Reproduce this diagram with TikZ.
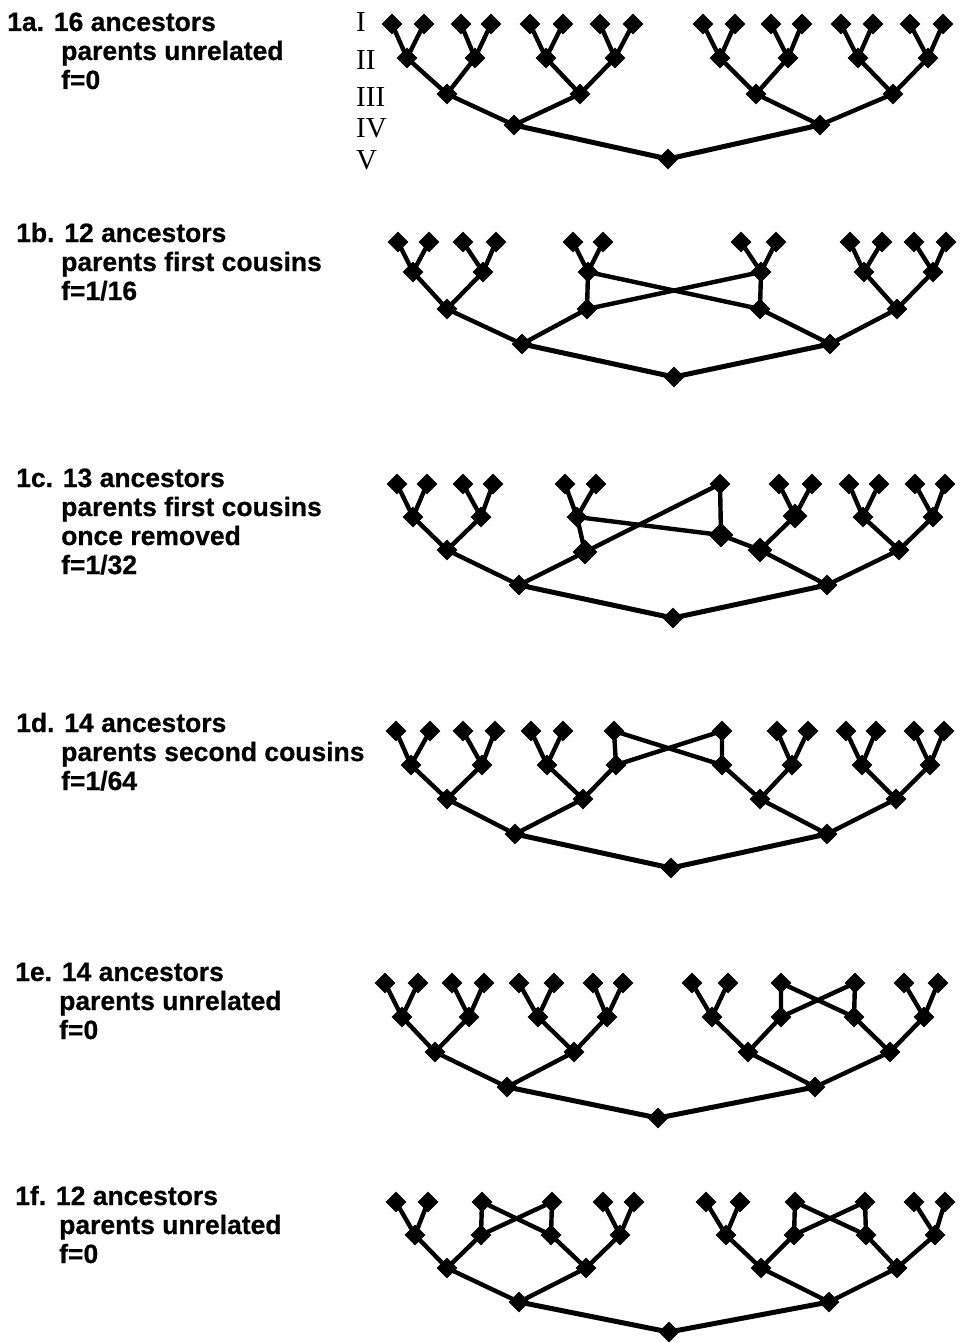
\documentclass[tikz,border=0pt]{standalone}
\usepackage{fontspec}
\setmainfont{Liberation Sans}
\newfontfamily\capfont[FakeBold=0.6]{Liberation Sans}
\newfontfamily\romfont{Liberation Serif}
\usetikzlibrary{shapes.geometric}

\begin{document}
\begin{tikzpicture}[x=1pt,y=-1pt]
    \tikzstyle{anc}=[diamond,fill=black,inner sep=0pt,minimum size=21pt]
    \tikzstyle{big}=[anc,minimum size=25pt]
    \tikzstyle{link}=[line width=4.4pt]
    \tikzstyle{root}=[line width=5pt]
    \tikzstyle{caption}=[anchor=base west,inner sep=0pt,font=\capfont\fontsize{26.5}{29}\selectfont\bfseries]
    \tikzstyle{gen}=[anchor=west,inner sep=0pt,font=\romfont\fontsize{29}{29}\selectfont]

    \useasboundingbox (0,0) rectangle (959,1343);

    % captions
    \node[caption] (capa) at (7,31) {1a. 16 ancestors};
    \node[caption] (capa2) at (61,60) {\begin{tabular}[t]{@{}l@{}}parents unrelated\\f=0\end{tabular}};
    \node[caption] (capb) at (16,242) {1b. 12 ancestors};
    \node[caption] (capb2) at (61,271) {\begin{tabular}[t]{@{}l@{}}parents first cousins\\f=1/16\end{tabular}};
    \node[caption] (capc) at (16,487) {1c. 13 ancestors};
    \node[caption] (capc2) at (61,516) {\begin{tabular}[t]{@{}l@{}}parents first cousins\\once removed\\f=1/32\end{tabular}};
    \node[caption] (capd) at (16,732) {1d. 14 ancestors};
    \node[caption] (capd2) at (61,761) {\begin{tabular}[t]{@{}l@{}}parents second cousins\\f=1/64\end{tabular}};
    \node[caption] (cape) at (15,981) {1e. 14 ancestors};
    \node[caption] (cape2) at (59,1010) {\begin{tabular}[t]{@{}l@{}}parents unrelated\\f=0\end{tabular}};
    \node[caption] (capf) at (15,1205) {1f. 12 ancestors};
    \node[caption] (capf2) at (59,1234) {\begin{tabular}[t]{@{}l@{}}parents unrelated\\f=0\end{tabular}};

    % generations
    \node[gen] (gI) at (356,22) {I};
    \node[gen] (gII) at (356,60) {II};
    \node[gen] (gIII) at (356,97) {III};
    \node[gen] (gIV) at (356,128) {IV};
    \node[gen] (gV) at (356,160) {V};

    % 1a
    \foreach \x [count=\i] in {392,424,461,491,530,563,600,633,703,735,771,802,841,873,910,943}
        \node[anc] (aI\i) at (\x,24) {};
    \foreach \x [count=\i] in {407,475,546,615,720,788,858,928}
        \node[anc] (aII\i) at (\x,58) {};
    \foreach \x [count=\i] in {447,580,756,893}
        \node[anc] (aIII\i) at (\x,94) {};
    \node[anc] (aIV1) at (514,125) {};
    \node[anc] (aIV2) at (820,125) {};
    \node[anc] (aV) at (668,159) {};

    \foreach \c/\p/\q in {1/1/2,2/3/4,3/5/6,4/7/8,5/9/10,6/11/12,7/13/14,8/15/16}
        \draw[link] (aI\p.center) -- (aII\c.center) -- (aI\q.center);
    \foreach \c/\p/\q in {1/1/2,2/3/4,3/5/6,4/7/8}
        \draw[link] (aII\p.center) -- (aIII\c.center) -- (aII\q.center);
    \draw[link] (aIII1.center) -- (aIV1.center) -- (aIII2.center);
    \draw[link] (aIII3.center) -- (aIV2.center) -- (aIII4.center);
    \draw[root] (aIV1.center) -- (aV.center) -- (aIV2.center);

    % 1b
    \foreach \x [count=\i] in {398,429,463,496,573,603,741,776,850,882,914,946}
        \node[anc] (bI\i) at (\x,242) {};
    \foreach \x [count=\i] in {413,483,588,761,864,933}
        \node[anc] (bII\i) at (\x,272) {};
    \foreach \x [count=\i] in {447,587,760,897}
        \node[anc] (bIII\i) at (\x,309) {};
    \node[anc] (bIV1) at (522,344) {};
    \node[anc] (bIV2) at (830,344) {};
    \node[anc] (bV) at (674,377) {};

    \foreach \c/\p/\q in {1/1/2,2/3/4,3/5/6,4/7/8,5/9/10,6/11/12}
        \draw[link] (bI\p.center) -- (bII\c.center) -- (bI\q.center);
    \foreach \c/\p/\q in {1/1/2,2/3/4,3/4/3,4/5/6}
        \draw[link] (bII\p.center) -- (bIII\c.center) -- (bII\q.center);
    \draw[link] (bIII1.center) -- (bIV1.center) -- (bIII2.center);
    \draw[link] (bIII3.center) -- (bIV2.center) -- (bIII4.center);
    \draw[root] (bIV1.center) -- (bV.center) -- (bIV2.center);

    % 1c
    \foreach \x [count=\i] in {397,427,463,493,565,596,720,779,812,849,879,915,945}
        \node[anc] (cI\i) at (\x,484) {};
    \foreach \x/\y/\s [count=\i] in {413/517/anc,481/517/anc,577/517/anc,721/535/big,795/516/big,863/517/anc,933/517/anc}
        \node[\s] (cII\i) at (\x,\y) {};
    \foreach \x/\y/\s [count=\i] in {447/550/anc,585/552/big,760/550/big,899/550/anc}
        \node[\s] (cIII\i) at (\x,\y) {};
    \node[anc] (cIV1) at (519,585) {};
    \node[anc] (cIV2) at (827,585) {};
    \node[anc] (cV) at (673,618) {};

    \foreach \c/\p/\q in {1/1/2,2/3/4,3/5/6,5/8/9,6/10/11,7/12/13}
        \draw[link] (cI\p.center) -- (cII\c.center) -- (cI\q.center);
    \draw[link] (cII3.center) -- (cII4.center) -- (cI7.center);
    \draw[link] (cII3.center) -- (cIII2.center) -- (cI7.center);
    \foreach \c/\p/\q in {1/1/2,3/4/5,4/6/7}
        \draw[link] (cII\p.center) -- (cIII\c.center) -- (cII\q.center);
    \draw[link] (cIII1.center) -- (cIV1.center) -- (cIII2.center);
    \draw[link] (cIII3.center) -- (cIV2.center) -- (cIII4.center);
    \draw[root] (cIV1.center) -- (cV.center) -- (cIV2.center);

    % 1d
    \foreach \x [count=\i] in {396,430,463,495,531,563,614,722,777,808,846,876,914,944}
        \node[anc] (dI\i) at (\x,731) {};
    \foreach \x [count=\i] in {411,482,547,616,722,792,862,930}
        \node[anc] (dII\i) at (\x,765) {};
    \foreach \x [count=\i] in {447,583,760,896}
        \node[anc] (dIII\i) at (\x,799) {};
    \node[anc] (dIV1) at (515,834) {};
    \node[anc] (dIV2) at (827,834) {};
    \node[anc] (dV) at (671,868) {};

    \foreach \c/\p/\q in {1/1/2,2/3/4,3/5/6,4/7/8,5/8/7,6/9/10,7/11/12,8/13/14}
        \draw[link] (dI\p.center) -- (dII\c.center) -- (dI\q.center);
    \foreach \c/\p/\q in {1/1/2,2/3/4,3/5/6,4/7/8}
        \draw[link] (dII\p.center) -- (dIII\c.center) -- (dII\q.center);
    \draw[link] (dIII1.center) -- (dIV1.center) -- (dIII2.center);
    \draw[link] (dIII3.center) -- (dIV2.center) -- (dIII4.center);
    \draw[root] (dIV1.center) -- (dV.center) -- (dIV2.center);

    % 1e
    \foreach \x [count=\i] in {385,418,452,484,519,554,593,623,692,728,781,855,904,938}
        \node[anc] (eI\i) at (\x,983) {};
    \foreach \x [count=\i] in {402,469,538,607,712,781,854,924}
        \node[anc] (eII\i) at (\x,1017) {};
    \foreach \x [count=\i] in {435,574,748,890}
        \node[anc] (eIII\i) at (\x,1052) {};
    \node[anc] (eIV1) at (507,1087) {};
    \node[anc] (eIV2) at (815,1087) {};
    \node[anc] (eV) at (658,1118) {};

    \foreach \c/\p/\q in {1/1/2,2/3/4,3/5/6,4/7/8,5/9/10,6/11/12,7/12/11,8/13/14}
        \draw[link] (eI\p.center) -- (eII\c.center) -- (eI\q.center);
    \foreach \c/\p/\q in {1/1/2,2/3/4,3/5/6,4/7/8}
        \draw[link] (eII\p.center) -- (eIII\c.center) -- (eII\q.center);
    \draw[link] (eIII1.center) -- (eIV1.center) -- (eIII2.center);
    \draw[link] (eIII3.center) -- (eIV2.center) -- (eIII4.center);
    \draw[root] (eIV1.center) -- (eV.center) -- (eIV2.center);

    % 1f
    \foreach \x [count=\i] in {396,428,482,552,603,634,706,740,795,865,914,945}
        \node[anc] (fI\i) at (\x,1202) {};
    \foreach \x [count=\i] in {415,481,551,620,726,794,866,935}
        \node[anc] (fII\i) at (\x,1235) {};
    \foreach \x [count=\i] in {447,586,761,897}
        \node[anc] (fIII\i) at (\x,1268) {};
    \node[anc] (fIV1) at (519,1302) {};
    \node[anc] (fIV2) at (829,1302) {};
    \node[anc] (fV) at (669,1332) {};

    \foreach \c/\p/\q in {1/1/2,2/3/4,3/4/3,4/5/6,5/7/8,6/9/10,7/10/9,8/11/12}
        \draw[link] (fI\p.center) -- (fII\c.center) -- (fI\q.center);
    \foreach \c/\p/\q in {1/1/2,2/3/4,3/5/6,4/7/8}
        \draw[link] (fII\p.center) -- (fIII\c.center) -- (fII\q.center);
    \draw[link] (fIII1.center) -- (fIV1.center) -- (fIII2.center);
    \draw[link] (fIII3.center) -- (fIV2.center) -- (fIII4.center);
    \draw[root] (fIV1.center) -- (fV.center) -- (fIV2.center);
\end{tikzpicture}
\end{document}
